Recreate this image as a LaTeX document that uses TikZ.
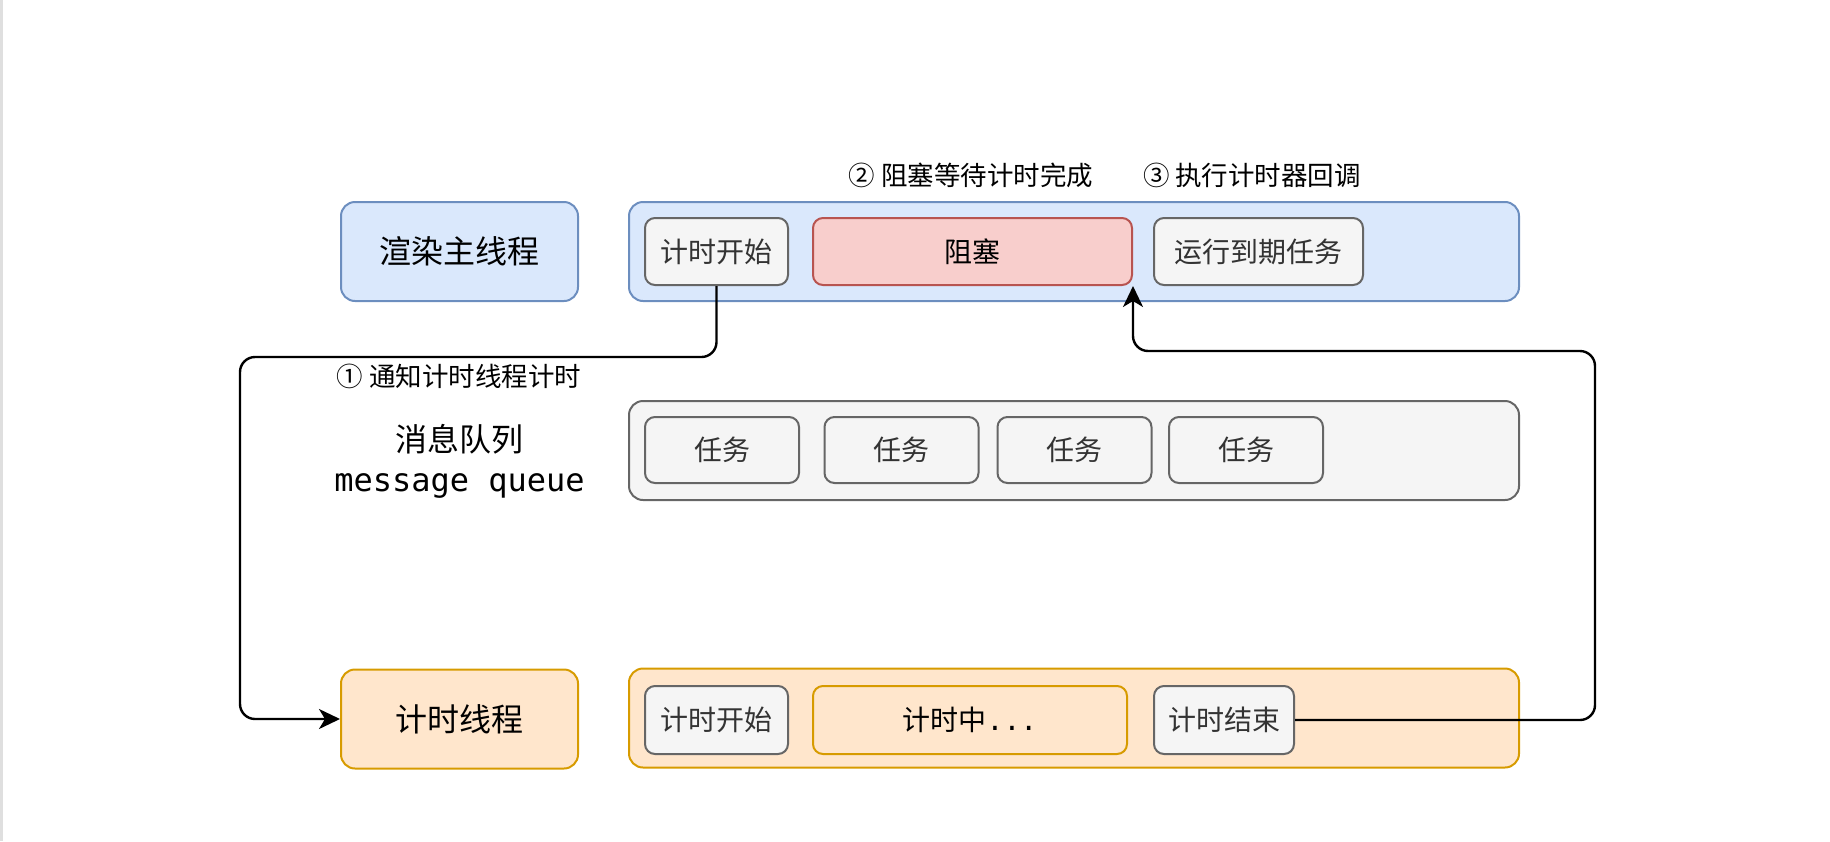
\documentclass[tikz,border=0pt]{standalone}
\usepackage{fontspec}
\setmainfont{Noto Sans CJK SC}
\newfontfamily\monofont{DejaVu Sans Mono}
\usetikzlibrary{arrows.meta,positioning}

\definecolor{bluefill}{HTML}{DAE8FC}
\definecolor{blueline}{HTML}{6C8EBF}
\definecolor{redfill}{HTML}{F8CECC}
\definecolor{redline}{HTML}{B85450}
\definecolor{grayfill}{HTML}{F5F5F5}
\definecolor{grayline}{HTML}{666666}
\definecolor{orangefill}{HTML}{FFE6CC}
\definecolor{orangeline}{HTML}{D79B00}
\definecolor{graytext}{HTML}{333333}

\begin{document}
\begin{tikzpicture}[x=1pt,y=-1pt,
  box/.style={draw,line width=2pt,rounded corners=14pt,inner sep=0pt},
  lane/.style={box,minimum width=237pt,minimum height=99pt,font=\fontsize{32}{38}\selectfont},
  bar/.style={box,minimum width=890pt,minimum height=99pt},
  cell/.style={box,rounded corners=10pt,minimum height=67pt,font=\fontsize{28}{34}\selectfont},
  task/.style={cell,fill=grayfill,draw=grayline,text=graytext},
  note/.style={font=\fontsize{26.5}{32}\selectfont},
  flow/.style={line width=2.4pt,rounded corners=15pt,-{Stealth[length=21pt,width=20pt,inset=6pt]}}]
  \useasboundingbox (0,0) rectangle (1830,841);
  \draw[gray!25,line width=3pt] (1.5,0) -- (1.5,841);

  % threads and queue
  \path
  node[lane,fill=bluefill,draw=blueline] (main) at (459.5,251.5) {渲染主线程}
  node[bar,fill=bluefill,draw=blueline] (mainbar) at (1074,251.5) {}
  node[bar,fill=grayfill,draw=grayline] (queue) at (1074,450.5) {}
  node[lane,fill=orangefill,draw=orangeline] (timer) at (459.5,719) {计时线程}
  node[bar,fill=orangefill,draw=orangeline] (timerbar) at (1074,718) {}
  ;
  \node[align=center,font=\fontsize{32}{40}\selectfont] (queuelabel) at (459.5,461) {消息队列\\{\monofont message queue}};

  % main thread steps
  \path
  node[task,minimum width=143pt] (start) at (716.5,251.5) {计时开始}
  node[cell,fill=redfill,draw=redline,minimum width=319pt] (block) at (972.5,251.5) {阻塞}
  node[task,minimum width=209pt] (run) at (1258.5,251.5) {运行到期任务}
  ;

  % queued tasks
  \path
  node[task,minimum width=154pt,minimum height=66pt] (task1) at (722,450) {任务}
  node[task,minimum width=154pt,minimum height=66pt] (task2) at (901.5,450) {任务}
  node[task,minimum width=154pt,minimum height=66pt] (task3) at (1074.5,450) {任务}
  node[task,minimum width=154pt,minimum height=66pt] (task4) at (1246,450) {任务}
  ;

  % timer thread steps
  \path
  node[task,minimum width=143pt,minimum height=68pt] (tstart) at (716.5,720) {计时开始}
  node[cell,fill=orangefill,draw=orangeline,minimum width=314pt,minimum height=68pt] (ticking) at (970,720) {计时中{\monofont ...}}
  node[task,minimum width=140pt,minimum height=68pt] (tend) at (1224,720) {计时结束}
  ;

  % step labels
  \node[note] (step1) at (459,376) {① 通知计时线程计时};
  \node[note] (step2) at (971,175) {② 阻塞等待计时完成};
  \node[note] (step3) at (1252,175) {③ 执行计时器回调};

  \draw[flow] (start.south) |- (240,357) |- (timer.west);
  \draw[flow] (tend.east) -| (1595,351) -| (block.south east);
\end{tikzpicture}
\end{document}
